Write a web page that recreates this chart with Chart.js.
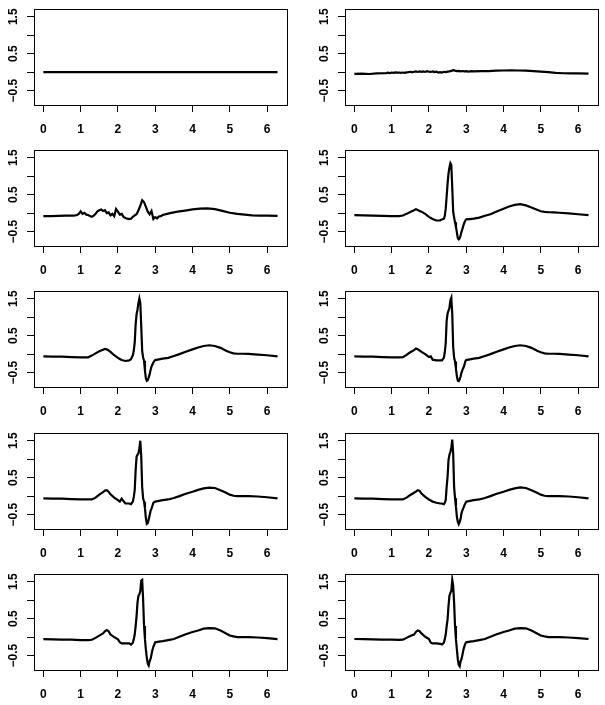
<!DOCTYPE html>
<html>
<head>
<meta charset="utf-8">
<script src="https://cdn.jsdelivr.net/npm/chart.js@4.4.1/dist/chart.umd.min.js"></script>
<style>
  html, body { margin: 0; padding: 0; background: #fff; }
  #wrap { position: relative; width: 605px; height: 705px; overflow: hidden; }
  #wrap canvas { position: absolute; }
</style>
</head>
<body>
<div id="wrap"></div>
<script>
// Sample positions (x, radians)
const tFlat = [0, 6.28];
const tNoise = [
  0, 0.2, 0.4, 0.6, 0.8,
  0.85, 0.9, 0.95, 1.0, 1.05,
  1.1, 1.15, 1.2, 1.25, 1.3,
  1.35, 1.4, 1.45, 1.5, 1.55,
  1.6, 1.65, 1.7, 1.75, 1.8,
  1.85, 1.9, 1.95, 2.0, 2.05,
  2.1, 2.15, 2.2, 2.25, 2.3,
  2.35, 2.4, 2.45, 2.5, 2.55,
  2.6, 2.65, 2.7, 2.75, 2.8,
  2.85, 2.9, 2.95, 3.0, 3.05,
  3.1, 3.15, 3.2, 3.4, 3.6,
  3.8, 4.0, 4.2, 4.4, 4.6,
  4.8, 5.0, 5.2, 5.4, 5.6,
  5.8, 6.0, 6.28
];
const tEcg = [
  0, 0.25, 0.5, 0.75, 1.0,
  1.2, 1.3, 1.4, 1.5, 1.6,
  1.65, 1.7, 1.75, 1.8, 1.9,
  2.0, 2.05, 2.1, 2.2, 2.3,
  2.35, 2.4, 2.425, 2.45, 2.475,
  2.5, 2.525, 2.55, 2.575, 2.6,
  2.625, 2.65, 2.675, 2.7, 2.725,
  2.75, 2.775, 2.8, 2.825, 2.85,
  2.875, 2.9, 2.925, 2.95, 2.975,
  3.0, 3.1, 3.2, 3.35, 3.5,
  3.65, 3.8, 4.0, 4.15, 4.3,
  4.45, 4.6, 4.75, 4.9, 5.0,
  5.1, 5.2, 5.35, 5.5, 5.75,
  6.0, 6.28
];

// Series values, one per panel (row by row, left then right)
const ecg1 = [0, 0];
const ecg2 = [
  -0.045, -0.04, -0.05, -0.035, -0.03,
  -0.025, -0.015, -0.025, -0.01, -0.02,
  -0.005, -0.015, -0.01, -0.02, -0.01,
  -0.02, -0.005, 0.0, 0.01, -0.005,
  0.01, 0.02, 0.005, 0.02, 0.01,
  0.02, 0.005, 0.025, 0.01, 0.005,
  0.02, 0.0, 0.015, -0.01, 0.0,
  -0.01, 0.01, 0.0, 0.015, 0.02,
  0.035, 0.055, 0.04, 0.03, 0.035,
  0.02, 0.03, 0.02, 0.025, 0.015,
  0.02, 0.025, 0.02, 0.025, 0.03,
  0.04, 0.045, 0.05, 0.045, 0.04,
  0.03, 0.015, 0.0, -0.02, -0.03,
  -0.035, -0.035, -0.04
];
const ecg3 = [
  -0.08, -0.08, -0.075, -0.07, -0.065,
  -0.06, -0.05, -0.02, 0.05, -0.02,
  0.01, -0.04, -0.05, -0.08, -0.1,
  -0.07, -0.02, 0.05, 0.08, 0.1,
  0.06, 0.08, 0.0, 0.02, -0.06,
  -0.02, -0.08, 0.11, 0.04, -0.04,
  -0.02, -0.1, -0.13, -0.15, -0.16,
  -0.15, -0.1, -0.06, -0.03, 0.08,
  0.2, 0.35, 0.3, 0.17, 0.04,
  -0.03, 0.06, -0.16, -0.11, -0.14,
  -0.09, -0.08, -0.05, 0.0, 0.04,
  0.07, 0.1, 0.12, 0.13, 0.11,
  0.06, 0.01, -0.02, -0.04, -0.06,
  -0.065, -0.07, -0.075
];
const ecg4 = [
  -0.055, -0.06, -0.07, -0.075, -0.08,
  -0.08, -0.065, -0.02, 0.03, 0.08,
  0.105, 0.085, 0.06, 0.04, -0.02,
  -0.1, -0.13, -0.16, -0.2, -0.2,
  -0.17, -0.15, -0.08, 0.12, 0.45,
  0.8, 1.08, 1.24, 1.35, 1.3,
  0.7, 0.05, -0.12, -0.25, -0.38,
  -0.52, -0.68, -0.71, -0.68, -0.6,
  -0.5, -0.42, -0.33, -0.26, -0.2,
  -0.17, -0.16, -0.15, -0.12, -0.07,
  -0.03, 0.04, 0.12, 0.18, 0.225,
  0.245, 0.21, 0.15, 0.09, 0.05,
  0.035, 0.025, 0.02, 0.01, -0.005,
  -0.03, -0.055
];
const ecg5 = [
  -0.06, -0.065, -0.07, -0.08, -0.085,
  -0.085, -0.04, 0.02, 0.08, 0.12,
  0.14, 0.13, 0.1, 0.06, -0.03,
  -0.1, -0.13, -0.16, -0.185, -0.17,
  -0.14, -0.03, 0.09, 0.31, 0.8,
  1.08, 1.21, 1.39, 1.51, 1.39,
  0.76, 0.09, -0.09, -0.18, -0.45,
  -0.66, -0.72, -0.7, -0.63, -0.55,
  -0.43, -0.34, -0.28, -0.23, -0.19,
  -0.16, -0.14, -0.12, -0.1, -0.05,
  0.0, 0.06, 0.13, 0.18, 0.22,
  0.24, 0.22, 0.17, 0.09, 0.05,
  0.02, 0.01, 0.01, 0.005, -0.015,
  -0.03, -0.06
];
const ecg6 = [
  -0.06, -0.065, -0.07, -0.08, -0.085,
  -0.09, -0.08, -0.02, 0.05, 0.11,
  0.15, 0.13, 0.1, 0.06, 0.0,
  -0.08, -0.06, -0.15, -0.17, -0.17,
  -0.17, -0.1, 0.05, 0.3, 0.9,
  1.1, 1.18, 1.25, 1.45, 1.52,
  1.1, 0.2, -0.1, -0.2, -0.4,
  -0.6, -0.72, -0.73, -0.68, -0.6,
  -0.5, -0.42, -0.37, -0.3, -0.2,
  -0.16, -0.14, -0.12, -0.1, -0.05,
  0.0, 0.06, 0.13, 0.18, 0.22,
  0.24, 0.22, 0.17, 0.09, 0.05,
  0.02, 0.01, 0.01, 0.005, -0.015,
  -0.03, -0.06
];
const ecg7 = [
  -0.06, -0.065, -0.07, -0.08, -0.09,
  -0.09, -0.09, -0.04, 0.04, 0.11,
  0.15, 0.16, 0.12, 0.05, -0.04,
  -0.11, -0.15, -0.07, -0.2, -0.2,
  -0.22, -0.15, -0.02, 0.16, 0.7,
  1.07, 1.12, 1.16, 1.3, 1.5,
  1.07, 0.25, -0.06, -0.15, -0.33,
  -0.6, -0.75, -0.73, -0.63, -0.52,
  -0.4, -0.34, -0.26, -0.18, -0.16,
  -0.15, -0.13, -0.11, -0.09, -0.05,
  0.0, 0.06, 0.12, 0.17, 0.21,
  0.23, 0.22, 0.16, 0.09, 0.04,
  0.01, 0.0, 0.0, 0.0, -0.01,
  -0.03, -0.06
];
const ecg8 = [
  -0.06, -0.065, -0.07, -0.08, -0.085,
  -0.09, -0.09, -0.04, 0.03, 0.09,
  0.12, 0.16, 0.14, 0.07, -0.02,
  -0.09, -0.12, -0.15, -0.18, -0.2,
  -0.2, -0.22, -0.18, -0.11, 0.25,
  0.53, 0.98, 1.12, 1.2, 1.3,
  1.53, 1.16, 0.25, -0.06, -0.29,
  -0.56, -0.7, -0.76, -0.7, -0.61,
  -0.45, -0.38, -0.32, -0.25, -0.2,
  -0.15, -0.13, -0.11, -0.09, -0.05,
  0.0, 0.06, 0.12, 0.17, 0.21,
  0.235, 0.22, 0.16, 0.09, 0.04,
  0.01, 0.0, 0.0, 0.0, -0.01,
  -0.03, -0.06
];
const ecg9 = [
  -0.055, -0.06, -0.065, -0.07, -0.08,
  -0.08, -0.07, -0.02, 0.04, 0.1,
  0.16, 0.19, 0.16, 0.07, 0.0,
  -0.06, -0.14, -0.17, -0.17, -0.17,
  -0.2, -0.15, -0.06, 0.07, 0.3,
  0.57, 0.94, 1.12, 1.16, 1.25,
  1.53, 1.55, 1.03, 0.3, -0.06,
  -0.34, -0.56, -0.72, -0.77, -0.65,
  -0.59, -0.47, -0.35, -0.26, -0.2,
  -0.14, -0.12, -0.11, -0.08, -0.05,
  0.01, 0.07, 0.14, 0.18, 0.23,
  0.245, 0.24, 0.18, 0.1, 0.045,
  0.02, 0.0, 0.0, 0.0, -0.01,
  -0.025, -0.055
];
const ecg10 = [
  -0.05, -0.055, -0.06, -0.065, -0.07,
  -0.075, -0.07, -0.02, 0.03, 0.07,
  0.14, 0.18, 0.16, 0.1, 0.01,
  -0.05, -0.15, -0.17, -0.17, -0.18,
  -0.2, -0.15, -0.06, 0.07, 0.3,
  0.48, 0.85, 1.12, 1.2, 1.25,
  1.55, 1.39, 0.94, 0.3, -0.06,
  -0.34, -0.61, -0.75, -0.79, -0.65,
  -0.59, -0.47, -0.34, -0.25, -0.18,
  -0.14, -0.12, -0.11, -0.08, -0.05,
  0.01, 0.07, 0.14, 0.18, 0.23,
  0.245, 0.24, 0.18, 0.1, 0.045,
  0.02, 0.0, 0.0, 0.0, -0.01,
  -0.025, -0.05
];

// Tick labels
const xTicks = [0, 1, 2, 3, 4, 5, 6];
const yTicks = [-0.5, 0, 0.5, 1, 1.5];
const yLabeled = [-0.5, 0.5, 1.5];

const panels = [
  [tFlat, ecg1], [tNoise, ecg2],
  [tNoise, ecg3], [tEcg, ecg4],
  [tEcg, ecg5], [tEcg, ecg6],
  [tEcg, ecg7], [tEcg, ecg8],
  [tEcg, ecg9], [tEcg, ecg10]
];

// Layout of the 5x2 grid
const colLeft = [0, 311];
const rowTop = [0, 141, 282, 424, 565];
const W = 295, H = 141;

const font = { family: "'Liberation Sans', Arial, sans-serif", size: 12, weight: 'bold' };
const fmt = v => (v < 0 ? '\u2212' + Math.abs(v) : String(v));

// R-style box around the plot region
const boxPlugin = {
  id: 'box',
  afterDraw(chart) {
    const { ctx, chartArea: a } = chart;
    ctx.save();
    ctx.strokeStyle = '#000';
    ctx.lineWidth = 1;
    ctx.strokeRect(Math.round(a.left) + 0.5, Math.round(a.top) + 0.5,
      Math.round(a.right - a.left), Math.round(a.bottom - a.top));
    ctx.restore();
  }
};

const wrap = document.getElementById('wrap');

panels.forEach(([t, ys], i) => {
  const canvas = document.createElement('canvas');
  canvas.width = W;
  canvas.height = H;
  canvas.style.left = colLeft[i % 2] + 'px';
  canvas.style.top = rowTop[Math.floor(i / 2)] + 'px';
  wrap.appendChild(canvas);

  const gridOpts = { drawOnChartArea: false, tickLength: 7, color: '#000', lineWidth: 1 };

  new Chart(canvas.getContext('2d'), {
    type: 'line',
    data: {
      datasets: [{
        data: t.map((x, k) => ({ x: x, y: ys[k] })),
        borderColor: '#000',
        borderWidth: 2.2,
        pointRadius: 0,
        tension: 0,
        fill: false
      }]
    },
    options: {
      responsive: false,
      animation: false,
      events: [],
      layout: { padding: { top: 9, right: 8, bottom: 0, left: 0 } },
      plugins: { legend: { display: false }, tooltip: { enabled: false } },
      scales: {
        x: {
          type: 'linear',
          min: -0.251,
          max: 6.534,
          afterBuildTicks: s => { s.ticks = xTicks.map(v => ({ value: v })); },
          afterFit: s => { s.height = 36; },
          grid: gridOpts,
          border: { display: false },
          ticks: {
            autoSkip: false,
            maxRotation: 0,
            padding: 10,
            color: '#000',
            font: font,
            callback: v => String(v)
          }
        },
        y: {
          type: 'linear',
          min: -0.89,
          max: 1.71,
          afterBuildTicks: s => { s.ticks = yTicks.map(v => ({ value: v })); },
          afterFit: s => { s.width = 34; },
          grid: gridOpts,
          border: { display: false },
          ticks: {
            autoSkip: false,
            minRotation: 90,
            maxRotation: 90,
            crossAlign: 'center',
            padding: 1,
            color: '#000',
            font: font,
            callback: v => (yLabeled.includes(v) ? fmt(v) : '')
          }
        }
      }
    },
    plugins: [boxPlugin]
  });
});
</script>
</body>
</html>
